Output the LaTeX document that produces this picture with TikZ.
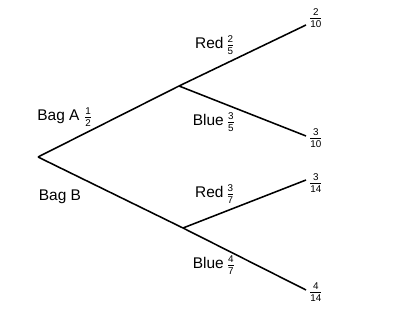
\documentclass[tikz,border=0pt]{standalone}
\usepackage{fontspec}
\setmainfont{Liberation Sans}
\newcommand{\pfrac}[2]{$\frac{\hbox{\scriptsize #1}}{\hbox{\scriptsize #2}}$}
\begin{document}
\begin{tikzpicture}[x=0.025cm, y=-0.025cm, every node/.style={font=\fontsize{11}{13}\selectfont, inner sep=1pt}]
    \useasboundingbox (0,0) rectangle (400,319);

    \coordinate (root) at (38,157);
    \coordinate (bagA) at (179,86);
    \coordinate (bagB) at (183,228);
    \coordinate (redA) at (306,25);
    \coordinate (blueA) at (306,136);
    \coordinate (redB) at (306,180);
    \coordinate (blueB) at (306,290);

    \draw[line width=1.1pt] (root) -- (bagA);
    \draw[line width=1.1pt] (root) -- (bagB);
    \draw[line width=1.1pt] (bagA) -- (redA);
    \draw[line width=1.1pt] (bagA) -- (blueA);
    \draw[line width=1.1pt] (bagB) -- (redB);
    \draw[line width=1.1pt] (bagB) -- (blueB);

    \node (labA) at (65,117) {Bag A \pfrac{1}{2}};
    \node (labB) at (60,197) {Bag B};
    \node (labRA) at (215,45) {Red\,\pfrac{2}{5}};
    \node (labBA) at (214,122) {Blue\,\pfrac{3}{5}};
    \node (labRB) at (215,194) {Red\,\pfrac{3}{7}};
    \node (labBB) at (214,265) {Blue\,\pfrac{4}{7}};

    \node[anchor=west] (pRA) at (307,18) {\pfrac{2}{10}};
    \node[anchor=west] (pBA) at (307,138) {\pfrac{3}{10}};
    \node[anchor=west] (pRB) at (307,183) {\pfrac{3}{14}};
    \node[anchor=west] (pBB) at (307,292) {\pfrac{4}{14}};
\end{tikzpicture}
\end{document}
